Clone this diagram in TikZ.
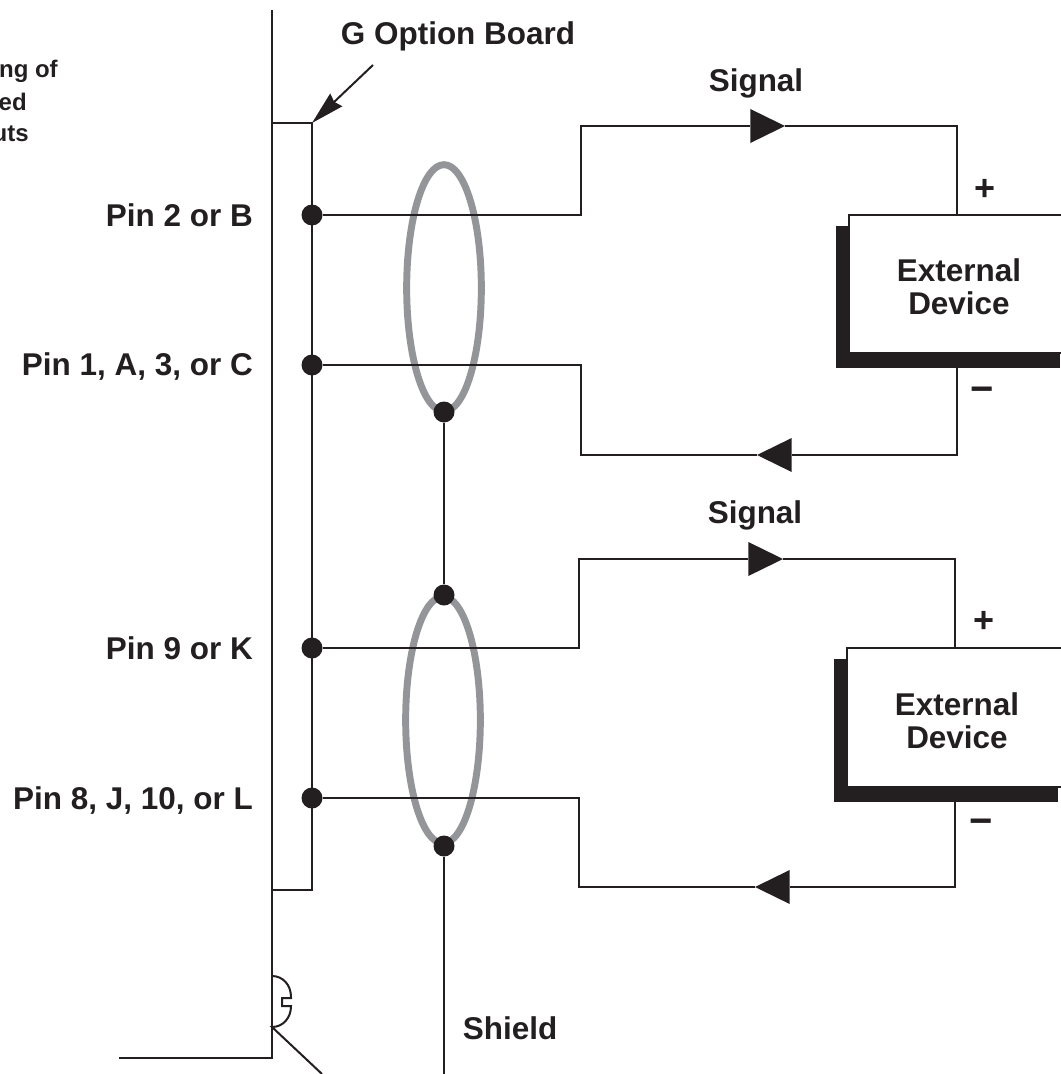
\documentclass[tikz,border=0pt]{standalone}
\usepackage{fontspec}
\setmainfont{Liberation Sans}
\usetikzlibrary{arrows.meta,shapes.geometric}

\definecolor{inkblack}{HTML}{231F20}
\definecolor{shieldgray}{HTML}{939598}

\tikzset{
  wire/.style={draw=inkblack, line width=1.9pt},
  thinwire/.style={draw=inkblack, line width=1.5pt},
  dot/.style={circle, fill=inkblack, inner sep=0pt, minimum size=15.75pt},
  pinlabel/.style={font=\bfseries\fontsize{23.6}{26}\selectfont, text=inkblack, inner sep=0pt, anchor=base east},
  biglabel/.style={font=\bfseries\fontsize{23.6}{25}\selectfont, text=inkblack, inner sep=0pt, align=center},
  toplabel/.style={biglabel, anchor=base},
  signlabel/.style={font=\bfseries\fontsize{27}{27}\selectfont, text=inkblack, inner sep=0pt},
  smalllabel/.style={font=\bfseries\fontsize{18}{20}\selectfont, text=inkblack, inner sep=0pt, anchor=base east},
  shield/.style={ellipse, draw=shieldgray, line width=5.2pt, inner sep=0pt, minimum width=56pt, minimum height=185pt},
  signaltip/.style={-{Triangle[length=26pt,width=25.5pt,line width=0pt]}},
}

\begin{document}
\begin{tikzpicture}[x=0.75pt, y=-0.75pt]
  \useasboundingbox (0,0) rectangle (1060,1074);

  % labels
  \node[smalllabel] (noteA) at (58,78)  {ng of};
  \node[smalllabel] (noteB) at (27,110) {ed};
  \node[smalllabel] (noteC) at (29,142) {uts};
  \node[toplabel] (board) at (458,45) {G Option Board};
  \node[toplabel] (sigtop) at (756,91) {Signal};
  \node[toplabel] (sigbot) at (755,523) {Signal};
  \node[toplabel] (shieldlabel) at (510,1039) {Shield};
  \node[pinlabel] (pinB) at (253,226) {Pin 2 or B};
  \node[pinlabel] (pinA) at (253,375) {Pin 1, A, 3, or C};
  \node[pinlabel] (pinK) at (253,659) {Pin 9 or K};
  \node[pinlabel] (pinJ) at (253,809) {Pin 8, J, 10, or L};

  % chassis and board
  \coordinate (chassistop) at (272,10);
  \coordinate (chassisbot) at (272,1058);
  \coordinate (groundend) at (119,1058);
  \coordinate (boardTL) at (272,123);
  \coordinate (boardTR) at (312,123);
  \coordinate (boardBR) at (312,890);
  \coordinate (boardBL) at (272,890);
  \coordinate (boardarrow) at (373,65);
  \draw[wire] (chassistop) -- (chassisbot) -- (groundend);
  \draw[wire] (boardTL) -- (boardTR) -- (boardBR) -- (boardBL);
  \draw[thinwire, -{Stealth[length=25pt,width=13pt,inset=2pt]}] (boardarrow) -- (boardTR);

  % ground clip
  \coordinate (clipstart) at (272,976);
  \coordinate (clipend) at (272,1027);
  \coordinate (groundwire) at (322,1074);
  \draw[thinwire] (clipstart) .. controls (283,976) and (291,985) .. (291,997)
    -- (291,998) -- (282,998) -- (282,1006) -- (291,1006)
    .. controls (291,1018) and (283,1027) .. (clipend) -- (groundwire);

  % grey shield loops
  \node[shield] (looptop) at (444,288) {};
  \node[shield] (loopbot) at (443,720) {};

  % dots
  \node[dot] (d1) at (312,215) {};
  \node[dot] (d2) at (312,365) {};
  \node[dot] (d3) at (312,648) {};
  \node[dot] (d4) at (312,798) {};
  \node[dot] (d5) at (444,412) {};
  \node[dot] (d6) at (444,595) {};
  \node[dot] (d7) at (444,846) {};
  \coordinate (shieldend) at (444,1074);
  \draw[wire] (d5) -- (d6);
  \draw[wire] (d7) -- (shieldend);

  % external devices
  \fill[inkblack] (836,226) rectangle (1060,368);
  \path[fill=white, draw=inkblack, line width=1.9pt] (1062,215) -- (849,215) -- (849,353) -- (1062,353);
  \node[biglabel] (dev1) at (959,287) {External\\Device};
  \node[signlabel] (plus1) at (985,190) {+};
  \node[signlabel, font=\bfseries\fontsize{30}{30}\selectfont] (minus1) at (982,395) {\textminus};

  \fill[inkblack] (834,659) rectangle (1058,802);
  \path[fill=white, draw=inkblack, line width=1.9pt] (1062,648) -- (847,648) -- (847,787) -- (1062,787);
  \node[biglabel] (dev2) at (957,721) {External\\Device};
  \node[signlabel] (plus2) at (984,622) {+};
  \node[signlabel, font=\bfseries\fontsize{30}{30}\selectfont] (minus2) at (981,827) {\textminus};

  % signal loop, top
  \coordinate (t1) at (581,215);
  \coordinate (t2) at (581,126);
  \coordinate (t3) at (785,126);
  \coordinate (t4) at (957,126);
  \coordinate (t5) at (957,215);
  \coordinate (t6) at (957,368);
  \coordinate (t7) at (957,455);
  \coordinate (t8) at (757,455);
  \coordinate (t9) at (581,455);
  \coordinate (t10) at (581,365);
  \draw[wire, signaltip] (d1) -- (t1) -- (t2) -- (t3);
  \draw[wire] (t3) -- (t4) -- (t5);
  \draw[wire, signaltip] (t6) -- (t7) -- (t8);
  \draw[wire] (t8) -- (t9) -- (t10) -- (d2);

  % signal loop, bottom
  \coordinate (b1) at (579,648);
  \coordinate (b2) at (579,559);
  \coordinate (b3) at (783,559);
  \coordinate (b4) at (955,559);
  \coordinate (b5) at (955,648);
  \coordinate (b6) at (955,802);
  \coordinate (b7) at (955,887);
  \coordinate (b8) at (755,887);
  \coordinate (b9) at (579,887);
  \coordinate (b10) at (579,798);
  \draw[wire, signaltip] (d3) -- (b1) -- (b2) -- (b3);
  \draw[wire] (b3) -- (b4) -- (b5);
  \draw[wire, signaltip] (b6) -- (b7) -- (b8);
  \draw[wire] (b8) -- (b9) -- (b10) -- (d4);
\end{tikzpicture}
\end{document}
